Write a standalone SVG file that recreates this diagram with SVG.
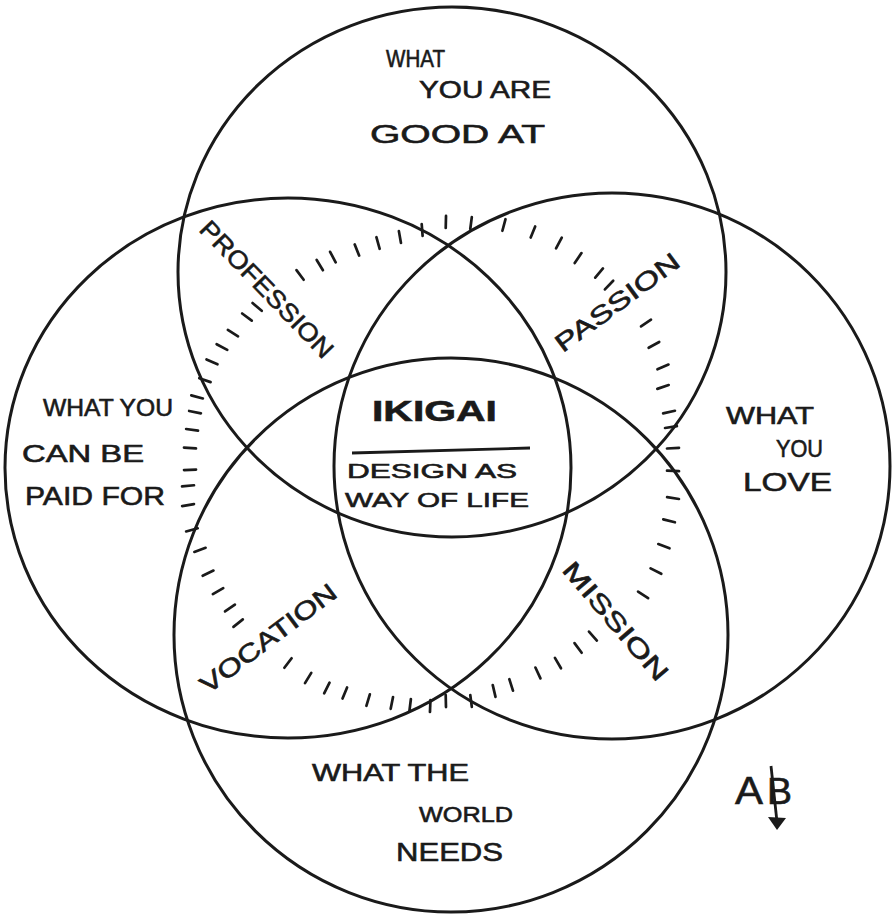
<svg xmlns="http://www.w3.org/2000/svg" xmlns:xlink="http://www.w3.org/1999/xlink" width="892" height="915" viewBox="0 0 892 915">
<style>
.c{fill:none;stroke:#1a1a1a;stroke-width:3}
.t{font-family:"Liberation Sans","DejaVu Sans",sans-serif;font-size:24px;fill:#1a1a1a;stroke:#1a1a1a;stroke-width:0.6}
.r{font-family:"Liberation Sans","DejaVu Sans",sans-serif;font-size:25px;fill:#1a1a1a;stroke:#1a1a1a;stroke-width:0.6;text-anchor:middle;dominant-baseline:central}
.tk{stroke:#1a1a1a;stroke-width:2.7;stroke-linecap:round}
</style>
<defs>
<line id="tk" class="tk" x1="0" y1="-6" x2="0" y2="6"/>
</defs>
<rect width="892" height="915" fill="#ffffff"/>

<g id="good-at">
<ellipse class="c" cx="452" cy="272" rx="274" ry="265"/>
<text class="t" x="386" y="67" textLength="59" lengthAdjust="spacingAndGlyphs">WHAT</text>
<text class="t" x="419" y="98" textLength="132" lengthAdjust="spacingAndGlyphs">YOU ARE</text>
<text class="t" x="370" y="143" style="font-size:26px" textLength="175" lengthAdjust="spacingAndGlyphs">GOOD  AT</text>
</g>

<g id="paid-for">
<ellipse class="c" cx="288" cy="468" rx="283" ry="270"/>
<text class="t" x="43" y="416" textLength="130" lengthAdjust="spacingAndGlyphs">WHAT YOU</text>
<text class="t" x="22" y="462" textLength="122" lengthAdjust="spacingAndGlyphs">CAN  BE</text>
<text class="t" x="25" y="505" style="font-size:26px" textLength="140" lengthAdjust="spacingAndGlyphs">PAID FOR</text>
</g>

<g id="love">
<ellipse class="c" cx="612" cy="466" rx="278" ry="273"/>
<text class="t" x="726" y="424" textLength="88" lengthAdjust="spacingAndGlyphs">WHAT</text>
<text class="t" x="776" y="457" textLength="47" lengthAdjust="spacingAndGlyphs">YOU</text>
<text class="t" x="743" y="491" style="font-size:26px" textLength="89" lengthAdjust="spacingAndGlyphs">LOVE</text>
</g>

<g id="world-needs">
<ellipse class="c" cx="451" cy="635" rx="277" ry="277"/>
<text class="t" x="312" y="781" textLength="157" lengthAdjust="spacingAndGlyphs">WHAT  THE</text>
<text class="t" x="419" y="822" style="font-size:22px" textLength="94" lengthAdjust="spacingAndGlyphs">WORLD</text>
<text class="t" x="396" y="861" style="font-size:26px" textLength="107" lengthAdjust="spacingAndGlyphs">NEEDS</text>
</g>

<g id="ikigai">
<text class="t" x="372" y="421" style="font-size:29px;font-weight:bold" textLength="125" lengthAdjust="spacingAndGlyphs">IKIGAI</text>
<line x1="352" y1="453" x2="530" y2="448" stroke="#1a1a1a" stroke-width="2.8"/>
<text class="t" x="347" y="478" style="font-size:20px" textLength="170" lengthAdjust="spacingAndGlyphs">DESIGN  AS</text>
<text class="t" x="345" y="507" style="font-size:21px" textLength="184" lengthAdjust="spacingAndGlyphs">WAY OF LIFE</text>
</g>

<g id="profession">
<text class="r" transform="translate(267 289) rotate(46)" textLength="180" lengthAdjust="spacingAndGlyphs">PROFESSION</text>
</g>
<g id="passion">
<text class="r" transform="translate(617 302) rotate(-36.5)" textLength="148" lengthAdjust="spacingAndGlyphs">PASSION</text>
</g>
<g id="vocation">
<text class="r" transform="translate(268 638) rotate(-37)" textLength="164" lengthAdjust="spacingAndGlyphs">VOCATION</text>
</g>
<g id="mission">
<text class="r" transform="translate(616 621) rotate(49.5)" textLength="148" lengthAdjust="spacingAndGlyphs">MISSION</text>
</g>

<g id="hatching">
<use href="#tk" transform="translate(440 462) rotate(-4.4) translate(0 -232.7)"/>
<use href="#tk" transform="translate(440 462) rotate(-10.1) translate(0 -228.5)"/>
<use href="#tk" transform="translate(440 462) rotate(-15.8) translate(0 -227.6)"/>
<use href="#tk" transform="translate(440 462) rotate(-21.4) translate(0 -227.7)"/>
<use href="#tk" transform="translate(440 462) rotate(-27.6) translate(0 -231.2)"/>
<use href="#tk" transform="translate(440 462) rotate(-31.4) translate(0 -230.7)"/>
<use href="#tk" transform="translate(440 462) rotate(-36.8) translate(0 -233.6)"/>
<use href="#tk" transform="translate(440 462) rotate(-49.7) translate(0 -239.8)"/>
<use href="#tk" transform="translate(440 462) rotate(-53.1) translate(0 -241.4)"/>
<use href="#tk" transform="translate(440 462) rotate(-58.1) translate(0 -243.9)"/>
<use href="#tk" transform="translate(440 462) rotate(-62.2) translate(0 -246.5)"/>
<use href="#tk" transform="translate(440 462) rotate(-66.3) translate(0 -249)"/>
<use href="#tk" transform="translate(440 462) rotate(-70.8) translate(0 -248.9)"/>
<use href="#tk" transform="translate(440 462) rotate(-75.0) translate(0 -251.5)"/>
<use href="#tk" transform="translate(440 462) rotate(-78.5) translate(0 -250)"/>
<use href="#tk" transform="translate(440 462) rotate(-82.6) translate(0 -250)"/>
<use href="#tk" transform="translate(440 462) rotate(-86.8) translate(0 -250.4)"/>
<use href="#tk" transform="translate(440 462) rotate(-91.8) translate(0 -250.1)"/>
<use href="#tk" transform="translate(440 462) rotate(-95.4) translate(0 -253.1)"/>
<use href="#tk" transform="translate(440 462) rotate(-99.7) translate(0 -255.6)"/>
<use href="#tk" transform="translate(440 462) rotate(-105.3) translate(0 -257.2)"/>
<use href="#tk" transform="translate(440 462) rotate(-110.1) translate(0 -255.6)"/>
<use href="#tk" transform="translate(440 462) rotate(-115.6) translate(0 -257.2)"/>
<use href="#tk" transform="translate(440 462) rotate(-120.2) translate(0 -256.8)"/>
<use href="#tk" transform="translate(440 462) rotate(-124.8) translate(0 -255.8)"/>
<use href="#tk" transform="translate(440 462) rotate(-128.6) translate(0 -258.3)"/>
<use href="#tk" transform="translate(440 462) rotate(-142.9) translate(0 -252)"/>
<use href="#tk" transform="translate(440 462) rotate(-148.6) translate(0 -253.1)"/>
<use href="#tk" transform="translate(440 462) rotate(-153.4) translate(0 -252.7)"/>
<use href="#tk" transform="translate(440 462) rotate(-157.6) translate(0 -249.8)"/>
<use href="#tk" transform="translate(440 462) rotate(-163.2) translate(0 -248.7)"/>
<use href="#tk" transform="translate(440 462) rotate(-168.7) translate(0 -245.7)"/>
<use href="#tk" transform="translate(440 462) rotate(-173.0) translate(0 -244.8)"/>
<use href="#tk" transform="translate(440 462) rotate(-177.7) translate(0 -244.2)"/>
<use href="#tk" transform="translate(440 462) rotate(178.6) translate(0 -239.1)"/>
<use href="#tk" transform="translate(440 462) rotate(172.6) translate(0 -241)"/>
<use href="#tk" transform="translate(440 462) rotate(166.7) translate(0 -235.3)"/>
<use href="#tk" transform="translate(440 462) rotate(162.3) translate(0 -234)"/>
<use href="#tk" transform="translate(440 462) rotate(155.1) translate(0 -232.6)"/>
<use href="#tk" transform="translate(440 462) rotate(149.6) translate(0 -233.1)"/>
<use href="#tk" transform="translate(440 462) rotate(143.4) translate(0 -231.6)"/>
<use href="#tk" transform="translate(440 462) rotate(138.7) translate(0 -231.7)"/>
<use href="#tk" transform="translate(440 462) rotate(123.2) translate(0 -242.7)"/>
<use href="#tk" transform="translate(440 462) rotate(116.8) translate(0 -241.9)"/>
<use href="#tk" transform="translate(440 462) rotate(110.6) translate(0 -239.2)"/>
<use href="#tk" transform="translate(440 462) rotate(104.4) translate(0 -236.5)"/>
<use href="#tk" transform="translate(440 462) rotate(98.8) translate(0 -235.8)"/>
<use href="#tk" transform="translate(440 462) rotate(92.2) translate(0 -233.2)"/>
<use href="#tk" transform="translate(440 462) rotate(86.6) translate(0 -233.4)"/>
<use href="#tk" transform="translate(440 462) rotate(81.4) translate(0 -233.6)"/>
<use href="#tk" transform="translate(440 462) rotate(77.7) translate(0 -234.4)"/>
<use href="#tk" transform="translate(440 462) rotate(71.4) translate(0 -235.3)"/>
<use href="#tk" transform="translate(440 462) rotate(66.9) translate(0 -242.4)"/>
<use href="#tk" transform="translate(440 462) rotate(61.3) translate(0 -243.9)"/>
<use href="#tk" transform="translate(440 462) rotate(56.0) translate(0 -248.5)"/>
<use href="#tk" transform="translate(440 462) rotate(43.7) translate(0 -244.7)"/>
<use href="#tk" transform="translate(440 462) rotate(40.1) translate(0 -247)"/>
<use href="#tk" transform="translate(440 462) rotate(34.1) translate(0 -246.3)"/>
<use href="#tk" transform="translate(440 462) rotate(28.5) translate(0 -249.2)"/>
<use href="#tk" transform="translate(440 462) rotate(22.0) translate(0 -248.1)"/>
<use href="#tk" transform="translate(440 462) rotate(15.1) translate(0 -245.5)"/>
<use href="#tk" transform="translate(440 462) rotate(7.4) translate(0 -241)"/>
<use href="#tk" transform="translate(440 462) rotate(1.4) translate(0 -240.1)"/>
</g>

<g id="signature">
<text class="t" x="735" y="804" style="font-size:38px" textLength="28" lengthAdjust="spacingAndGlyphs">A</text>
<text class="t" x="767" y="804" style="font-size:36px" textLength="25" lengthAdjust="spacingAndGlyphs">B</text>
<line x1="771" y1="766" x2="777" y2="822" stroke="#1a1a1a" stroke-width="2.8"/>
<polygon points="768,817 786,818 777,830" fill="#1a1a1a"/>
</g>
</svg>
